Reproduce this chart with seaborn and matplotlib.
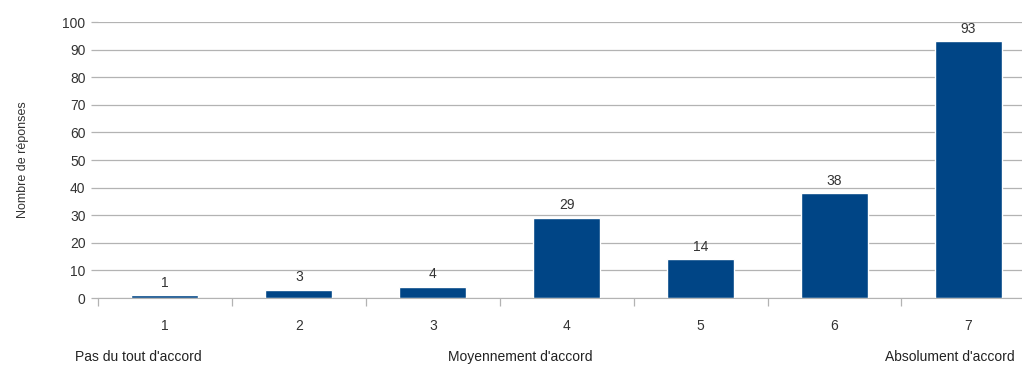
import matplotlib
matplotlib.use("Agg")
import matplotlib.pyplot as plt
import seaborn as sns
import pandas as pd

categories = ["1", "2", "3", "4", "5", "6", "7"]
counts = [1, 3, 4, 29, 14, 38, 93]
scale_labels = ["Pas du tout d'accord", "Moyennement d'accord", "Absolument d'accord"]
y_label = "Nombre de réponses"

sns.set_style("white")
plt.rcParams["font.family"] = ["Liberation Sans", "DejaVu Sans"]

df = pd.DataFrame({"note": categories, "n": counts})

fig = plt.figure(figsize=(10.22, 3.67), dpi=100)
ax = fig.add_axes([98 / 1022, 1 - 298 / 367, (1022 - 98) / 1022, 276 / 367])

sns.barplot(data=df, x="note", y="n", color="#004586", width=0.5,
            saturation=1, ax=ax, zorder=3)

ax.set_ylim(0, 100)
ax.set_xlim(-0.5, 6.4)
ax.set_yticks(range(0, 101, 10))
ax.yaxis.grid(True, color="#b3b3b3", linewidth=0.9, zorder=0)
ax.set_axisbelow(True)

for s in ["top", "right", "left"]:
    ax.spines[s].set_visible(False)
ax.spines["bottom"].set_color("#b3b3b3")
ax.spines["bottom"].set_zorder(4)

ax.tick_params(axis="y", which="major", left=True, length=5, width=0.9,
               color="#b3b3b3", labelsize=10, labelcolor="#333333", pad=4)
ax.tick_params(axis="x", which="major", bottom=False, length=0, labelsize=10,
               labelcolor="#333333", pad=15)

# category separators below the baseline
ax.set_xticks([i - 0.5 for i in range(7)], minor=True)
ax.tick_params(axis="x", which="minor", bottom=True, length=6, width=0.9,
               color="#b3b3b3")

for i, v in enumerate(counts):
    ax.text(i, v + 2, str(v), ha="center", va="bottom", fontsize=10, color="#333333")

ax.set_xlabel("")
ax.set_ylabel(y_label, fontsize=9, color="#333333", labelpad=24)

fig.text(75 / 1022, 1 - 357 / 367, scale_labels[0], ha="left", va="center",
         fontsize=10, color="#222222")
fig.text(520 / 1022, 1 - 357 / 367, scale_labels[1], ha="center", va="center",
         fontsize=10, color="#222222")
fig.text(1015 / 1022, 1 - 357 / 367, scale_labels[2], ha="right", va="center",
         fontsize=10, color="#222222")

fig.savefig("out.png", dpi=100)
